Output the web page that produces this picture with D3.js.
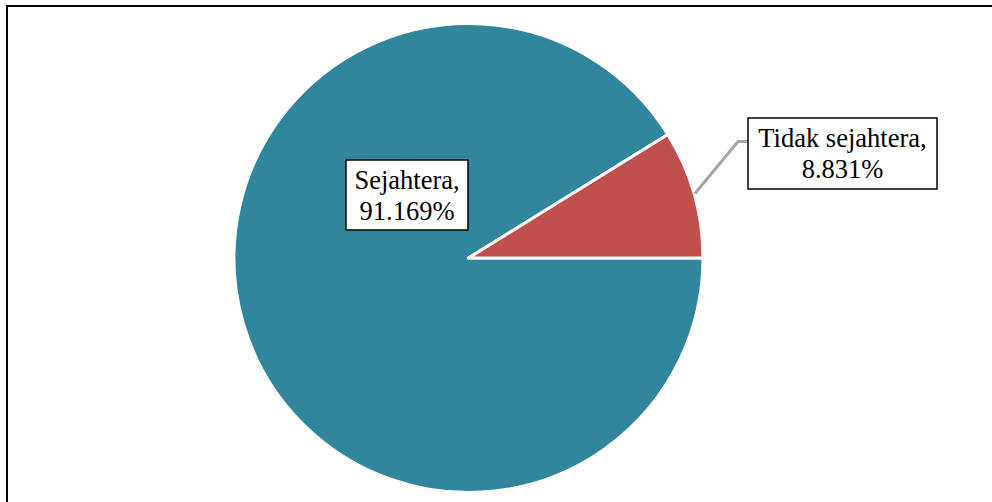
<!DOCTYPE html>
<html>
<head>
<meta charset="utf-8">
<script src="https://cdn.jsdelivr.net/npm/d3@7"></script>
<style>
  body { margin: 0; background: #fff; }
  text { font-family: "Liberation Serif", "Times New Roman", serif; }
</style>
</head>
<body>
<div id="chart"></div>
<script>
const categories = ["Sejahtera", "Tidak sejahtera"];
const shares = [91.169, 8.831];
const sliceColors = ["#31859C", "#C0504D"];

const width = 992;
const height = 502;

const svg = d3.select('#chart')
  .append('svg')
    .attr('width', width)
    .attr('height', height);

// frame (only top and left edges fall inside the picture)
svg.append('line')
    .attr('x1', 6).attr('y1', 6).attr('x2', width).attr('y2', 6)
    .attr('stroke', '#000').attr('stroke-width', 2);
svg.append('line')
    .attr('x1', 7).attr('y1', 5).attr('x2', 7).attr('y2', height)
    .attr('stroke', '#000').attr('stroke-width', 2);

const cx = 468.5;
const cy = 258;
const radius = 234.5;

const pie = d3.pie()
  .sort(null)
  .value(d => d.value)
  .startAngle(Math.PI / 2)
  .endAngle(Math.PI / 2 + 2 * Math.PI);

const data = categories.map((c, i) => ({ name: c, value: shares[i], color: sliceColors[i] }));
const arcs = pie(data);

const arc = d3.arc().innerRadius(0).outerRadius(radius);

const g = svg.append('g').attr('transform', `translate(${cx},${cy})`);

g.selectAll('path')
  .data(arcs)
  .join('path')
    .attr('d', arc)
    .attr('fill', d => d.data.color)
    .attr('stroke', '#fff')
    .attr('stroke-width', 3)
    .attr('stroke-linejoin', 'round');

// label boxes
const labelBoxes = [
  { x: 346, y: 160, w: 122, h: 70 },
  { x: 748, y: 118, w: 189, h: 71 }
];

// leader line for the small slice
const small = arcs[1];
const mid = (small.startAngle + small.endAngle) / 2;
const sx = cx + Math.sin(mid) * (radius + 1);
const sy = cy - Math.cos(mid) * (radius + 1);
const box2 = labelBoxes[1];
const ly = box2.y + box2.h / 2 - 12;
svg.append('polyline')
    .attr('points', [[sx, sy], [box2.x - 10, ly], [box2.x, ly]].map(p => p.join(',')).join(' '))
    .attr('fill', 'none')
    .attr('stroke', '#A6A6A6')
    .attr('stroke-width', 3);

const labels = svg.selectAll('g.label')
  .data(arcs)
  .join('g')
    .attr('class', 'label');

labels.append('rect')
    .attr('x', (d, i) => labelBoxes[i].x)
    .attr('y', (d, i) => labelBoxes[i].y)
    .attr('width', (d, i) => labelBoxes[i].w)
    .attr('height', (d, i) => labelBoxes[i].h)
    .attr('fill', '#fff')
    .attr('stroke', '#000')
    .attr('stroke-width', 1.5);

labels.append('text')
    .attr('x', (d, i) => labelBoxes[i].x + labelBoxes[i].w / 2)
    .attr('y', (d, i) => labelBoxes[i].y + 29)
    .attr('text-anchor', 'middle')
    .attr('font-size', '26.5px')
    .attr('fill', '#000')
    .text(d => d.data.name + ',');

labels.append('text')
    .attr('x', (d, i) => labelBoxes[i].x + labelBoxes[i].w / 2)
    .attr('y', (d, i) => labelBoxes[i].y + 60)
    .attr('text-anchor', 'middle')
    .attr('font-size', '26.5px')
    .attr('fill', '#000')
    .text(d => d3.format('.3f')(d.data.value) + '%');
</script>
</body>
</html>
